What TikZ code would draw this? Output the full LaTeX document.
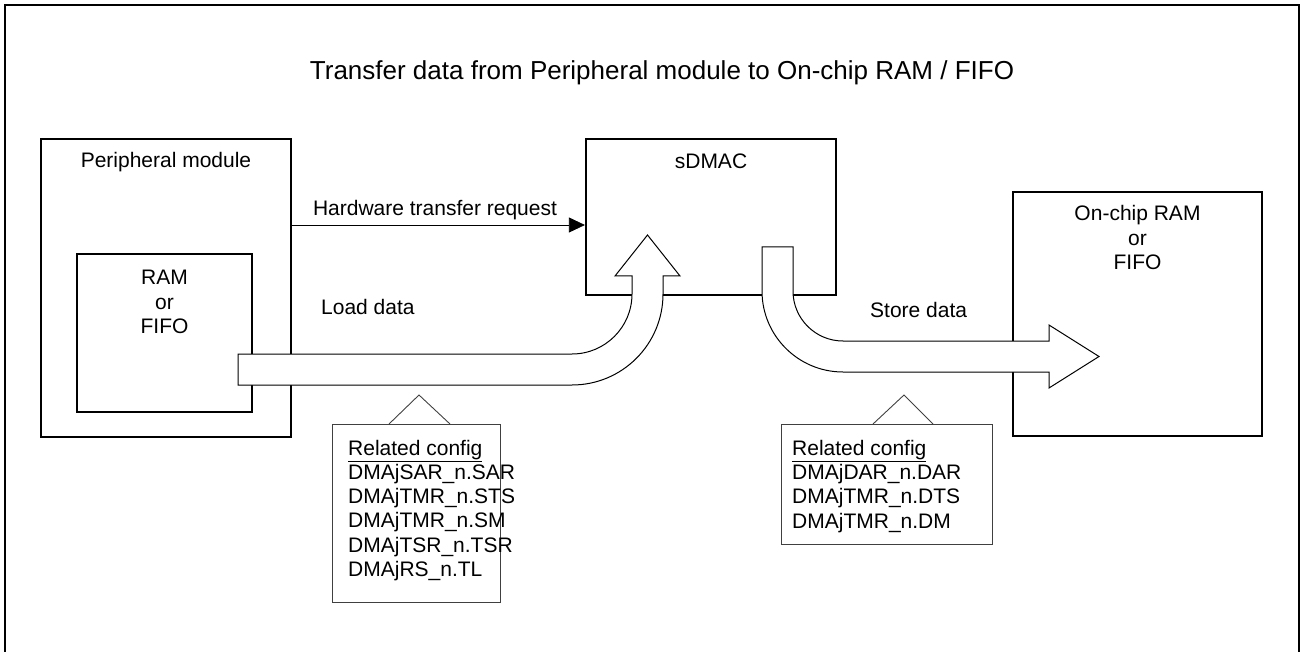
\documentclass[tikz,border=0pt]{standalone}
\usepackage{fontspec}
\setmainfont{Liberation Sans}
\usetikzlibrary{arrows.meta, positioning}
\definecolor{cfgGray}{HTML}{404040}

\begin{document}
\begin{tikzpicture}[x=1pt, y=-1pt,
      >={Triangle[length=16pt, width=15pt]},
      blk/.style={draw, line width=2.2pt, fill=white, inner sep=0pt},
      lbl/.style={font=\fontsize{21}{24.5}\selectfont, inner sep=0pt, align=center},
      cfg/.style={draw=cfgGray, line width=0.9pt, fill=white, inner sep=0pt, anchor=north west},
      cfgtxt/.style={font=\fontsize{21}{24.3}\selectfont, inner sep=0pt, align=left, anchor=base west},
      flow/.style={draw, line width=1pt, fill=white}]
    \useasboundingbox (0,0) rectangle (1301,652);
    % frame, bottom edge runs off the page
    \draw[line width=2.2pt] (5,5) rectangle (1299,670);
    \node[lbl, anchor=base, font=\fontsize{26}{30}\selectfont] (title) at (662,80)
      {Transfer data from Peripheral module to On-chip RAM / FIFO};

    % boxes
    \node[blk, minimum width=250pt, minimum height=298pt] (perip) at (166,288) {};
    \node[blk, minimum width=175pt, minimum height=158pt] (ram) at (164.5,333) {};
    \node[blk, minimum width=250pt, minimum height=156pt] (sdmac) at (711,217) {};
    \node[blk, minimum width=249pt, minimum height=244pt] (chip) at (1137.5,314) {};

    % base = last line
    \node[lbl, anchor=base] (peripname) at (166,168) {Peripheral module};
    \node[lbl, anchor=base] (ramname) at (164.5,334) {RAM\\or\\FIFO};
    \node[lbl, anchor=base] (sdmacname) at (711,169) {sDMAC};
    \node[lbl, anchor=base] (chipname) at (1137.5,270) {On-chip RAM\\or\\FIFO};

    % request line
    \coordinate (hwy) at (0,225);
    \draw[->, line width=0.8pt] (perip.east |- hwy) -- (sdmac.west |- hwy)
      node[lbl, pos=0.07, anchor=base west, yshift=9pt] (hwreq) {Hardware transfer request};

    % load path
    \draw[flow] (238,354) -- (572,354) arc[start angle=90, end angle=0, radius=60]
      -- (632,276) -- (615,276) -- (647.5,235) -- (680,276) -- (663,276)
      -- (663,294) arc[start angle=0, end angle=90, radius=91] -- (238,385) -- cycle;
    \node[lbl, anchor=base west] (load) at (321,315) {Load data};

    % store path
    \draw[flow] (762,247) -- (793,247) -- (793,291) arc[start angle=180, end angle=90, radius=50]
      -- (1049,341) -- (1049,325) -- (1099,356.5) -- (1049,388) -- (1049,372)
      -- (843,372) arc[start angle=90, end angle=180, radius=81] -- cycle;
    \node[lbl, anchor=base west] (store) at (870,318) {Store data};

    % related config
    \node[cfg, minimum width=168pt, minimum height=178pt] (cfgsrc) at (332,424) {};
    \draw[cfgGray, line width=0.9pt] (389,424) -- (419,395) -- (450,424);
    \node[cfgtxt] (cfgsrctxt) at (348,576.5)
      {\underline{Related config}\\DMAjSAR\_n.SAR\\DMAjTMR\_n.STS\\DMAjTMR\_n.SM\\DMAjTSR\_n.TSR\\DMAjRS\_n.TL};

    \node[cfg, minimum width=211pt, minimum height=120pt] (cfgdst) at (781,424) {};
    \draw[cfgGray, line width=0.9pt] (873,424) -- (904,395) -- (933,424);
    \node[cfgtxt] (cfgdsttxt) at (792,528)
      {\underline{Related config}\\DMAjDAR\_n.DAR\\DMAjTMR\_n.DTS\\DMAjTMR\_n.DM};
  \end{tikzpicture}
\end{document}
